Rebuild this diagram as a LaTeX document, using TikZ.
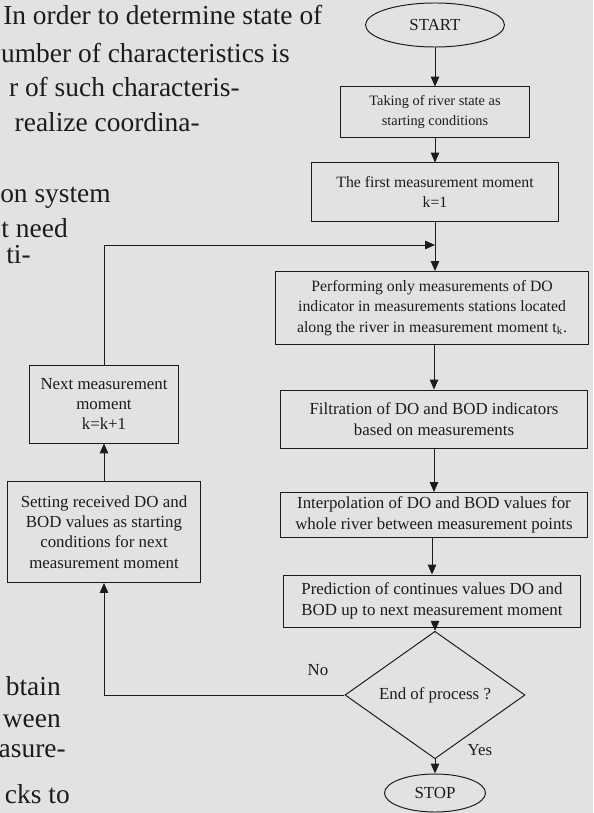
\documentclass[tikz,border=0pt]{standalone}
\usepackage{fontspec}
\setmainfont{Liberation Serif}
\usetikzlibrary{shapes.geometric,arrows.meta}

\definecolor{paper}{RGB}{226,226,226}
\definecolor{ink}{RGB}{28,28,28}

\tikzset{
    block/.style={draw=ink, rectangle, align=center, inner sep=1pt, text=ink,
        line width=0.7pt, font=\fontsize{12}{14.5}\selectfont},
    terminal/.style={draw=ink, ellipse, inner sep=0pt, text=ink,
        line width=0.7pt, font=\fontsize{12}{14.5}\selectfont},
    decision/.style={draw=ink, diamond, inner sep=0pt, text=ink,
        line width=0.7pt, font=\fontsize{12}{14.5}\selectfont},
    flow/.style={draw=ink, line width=0.7pt, -{Triangle[width=6pt,length=7pt]}},
    pagetext/.style={inner sep=0pt, text=ink, font=\fontsize{19.5}{24}\selectfont},
    answer/.style={inner sep=0pt, text=ink, font=\fontsize{12}{14.5}\selectfont},
}

\begin{document}
\begin{tikzpicture}[x=0.025cm, y=-0.025cm]
        \fill[paper] (0,0) rectangle (593,813);
        \useasboundingbox (0,0) rectangle (593,813);

        \node[pagetext, anchor=base west] (p1) at (3,25) {In order to determine state of};
        \node[pagetext, anchor=base east] (p2) at (290,63) {umber of characteristics is};
        \node[pagetext, anchor=base east] (p3) at (240,97) {r of such characteris-};
        \node[pagetext, anchor=base east] (p4) at (200,132) {realize coordina-};
        \node[pagetext, anchor=base east] (p5) at (111,202) {on system};
        \node[pagetext, anchor=base east] (p6) at (68,237) {t need};
        \node[pagetext, anchor=base east] (p7) at (31,263) {ti-};
        \node[pagetext, anchor=base east] (p8) at (61,695) {btain};
        \node[pagetext, anchor=base east] (p9) at (61,727) {ween};
        \node[pagetext, anchor=base east] (p10) at (66,757) {asure-};
        \node[pagetext, anchor=base east] (p11) at (70,803) {cks to};

        \node[terminal, minimum width=3.475cm, minimum height=1.1cm] (start) at (435,25) {START};
        \node[block, minimum width=4.7cm, minimum height=1.25cm, font=\fontsize{10.2}{14}\selectfont] (init) at (435,112)
            {Taking of river state as\\starting conditions};
        \node[block, minimum width=6.175cm, minimum height=1.45cm, font=\fontsize{11.2}{14}\selectfont] (first) at (435,192)
            {The first measurement moment\\k=1};
        \node[block, minimum width=7.8cm, minimum height=1.825cm, font=\fontsize{11.2}{14.5}\selectfont] (measure) at (432,308)
            {Performing only measurements of DO\\indicator in measurements stations located\\along the river in measurement moment t\textsubscript{k}.};
        \node[block, minimum width=7.675cm, minimum height=1.45cm] (filter) at (434,419)
            {Filtration of DO and BOD indicators\\based on measurements};
        \node[block, minimum width=7.675cm, minimum height=1.125cm] (interp) at (434,515)
            {Interpolation of DO and BOD values for\\whole river between measurement points};
        \node[block, minimum width=7.4cm, minimum height=1.3cm] (predict) at (432,601)
            {Prediction of continues values DO and\\BOD up to next measurement moment};
        \node[decision, minimum width=4.5cm, minimum height=1.9cm] (endq) at (435,695)
            {End of process ?};
        \node[terminal, minimum width=2.525cm, minimum height=0.95cm] (stop) at (435,793) {STOP};

        \node[block, minimum width=3.725cm, minimum height=1.95cm] (next) at (104,404)
            {Next measurement\\moment\\k=k+1};
        \node[block, minimum width=4.8cm, minimum height=2.525cm] (setk) at (104,532)
            {Setting received DO and\\BOD values as starting\\conditions for next\\measurement moment};

        \node[answer] (no) at (318,670) {No};
        \node[answer] (yes) at (480,750) {Yes};

        \coordinate (join) at (435,245);

        \draw[flow] (start) -- (init);
        \draw[flow] (init) -- (first);
        \draw[flow] (first) -- (first.south |- measure.north);
        \draw[flow] (measure.south -| filter) -- (filter);
        \draw[flow] (filter) -- (interp);
        \draw[flow] (interp.south -| predict) -- (predict);
        \draw[flow] (predict.south -| endq) -- (endq);
        \draw[flow] (endq) -- (stop);
        \draw[flow] (endq.west) -| (setk);
        \draw[flow] (setk) -- (next);
        \draw[flow] (next.north) |- (join);
\end{tikzpicture}
\end{document}
